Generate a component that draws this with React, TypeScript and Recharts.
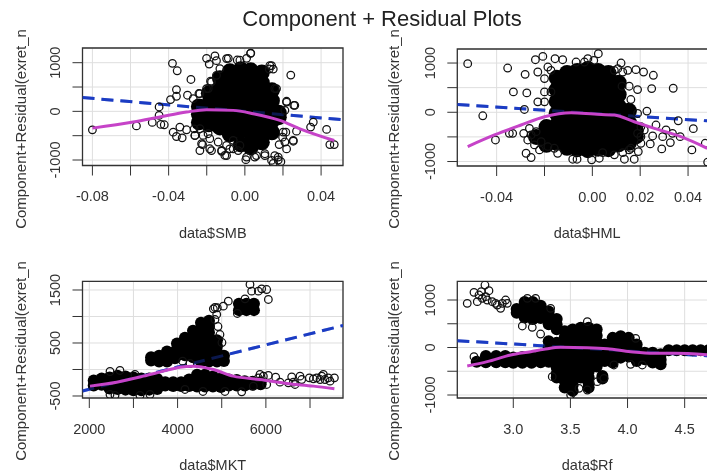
import {
  ScatterChart,
  Scatter,
  XAxis,
  YAxis,
  CartesianGrid,
  ReferenceArea,
} from "recharts";

type Pair = [number, number];
type Column = [number, number[]];

// SMB panel
const smbXTicks = [-0.08, -0.06, -0.04, -0.02, 0, 0.02, 0.04];
const smbXLabels = ["-0.08", "", "-0.04", "", "0.00", "", "0.04"];
const smbYTicks = [-1000, -500, 0, 500, 1000];
const smbYLabels = ["-1000", "", "0", "", "1000"];
const smbDense: Column[] = [
  [-0.0241, [100, -60, -226]],
  [-0.0189, [370, 155, -60, -267]],
  [-0.0131, [680, 470, 260, 50, -160, -330]],
  [-0.0079, [823, 610, 400, 190, -20, -230, -473]],
  [-0.0021, [864, 650, 440, 230, 20, -190, -400, -680]],
  [0.0031, [843, 630, 420, 210, 0, -210, -420, -630, -740]],
  [0.0089, [800, 590, 380, 170, -40, -250, -460, -637]],
  [0.0142, [432, 220, 10, -200, -432]],
  [0.0178, [-30, -120]],
];
const smbOpen: Pair[] = [
  [-0.08, -380], [-0.0569, -300], [-0.0486, -228], [-0.045, -83], [-0.045, 90], [-0.0441, -269],
  [-0.0423, -276], [-0.038, 986], [-0.0355, 834], [-0.0283, 655], [-0.039, 241], [-0.0359, 448],
  [-0.0359, 310], [-0.0301, 331], [-0.0241, 366], [-0.0376, -428], [-0.0359, -517], [-0.0329, -545],
  [-0.0341, -324], [-0.0306, -379], [-0.0266, -359], [-0.0262, -497], [-0.0236, -807], [-0.0222, -683],
  [-0.0175, -807], [-0.0201, 1090], [-0.0157, 1138], [-0.0187, 972], [-0.0149, 1041], [-0.018, 620],
  [-0.0192, 469], [-0.0122, -821], [-0.0096, -910], [-0.0079, -772], [-0.0087, 1090], [0.003, 1193],
  [0.0009, 1090], [-0.004, 1055], [0.0131, 938], [0.0149, 869], [0.0241, 745], [0.0157, 469],
  [0.0219, 207], [0.0257, 124], [0.021, 21], [0.0359, -221], [0.0345, -324], [0.0429, -372],
  [0.0446, -683], [0.0469, -683], [0.0271, -407], [0.0254, -614], [0.0215, -428], [0.0198, -531],
  [0.0219, -772], [0.018, -683], [0.0157, -910], [0.0175, -1000], [0.0149, -1069], [0.0189, -1034],
  [0.0005, -993], [0.0061, -910], [0.0105, -910], [-0.0035, -807],
  [-0.0227, -665], [-0.0184, -769], [-0.0122, -802], [-0.0061, -769], [-0.0105, -905], [-0.0219, -494],
  [-0.0184, -562], [-0.014, -631], [-0.0096, -700], [-0.0262, -494], [-0.0236, -357], [-0.0193, -460],
  [-0.0061, -596], [-0.0026, -700], [0.0009, -940], [0.0052, -940], [0.0105, -871], [0.0175, -940],
  [0.014, -1008], [0.021, -630], [0.0254, -596], [0.0201, -426], [0.0219, 191], [0.0262, 123],
  [0.0166, 466], [0.014, 938], [0.0128, 870], [-0.0096, 1084], [-0.0026, 1050], [0.0031, 1197],
  [-0.0131, 878], [-0.0149, 740], [-0.0175, 604], [-0.0201, 466], [-0.0236, 364], [-0.0271, 261],
];
const smbFit: Pair[] = [[-0.0852, 283], [0.0515, -172]];
const smbSmooth: Pair[] = [
  [-0.08, -345], [-0.0586, -221], [-0.0446, -117], [-0.0306, -14], [-0.0201, 34], [-0.0061, 20],
  [0.0044, -48], [0.0184, -186], [0.0289, -359], [0.0469, -600],
];

// HML panel
const hmlXTicks = [-0.04, -0.02, 0, 0.02, 0.04];
const hmlXLabels = ["-0.04", "", "0.00", "0.02", "0.04"];
const hmlYTicks = [-1000, -500, 0, 500, 1000];
const hmlYLabels = ["-1000", "", "0", "", "1000"];
const hmlDense: Column[] = [
  [-0.0235, [-500]],
  [-0.0192, [-300, -540, -660]],
  [-0.0149, [700, 460, 220, -20, -260, -500, -620]],
  [-0.0106, [800, 560, 320, 80, -160, -400, -640, -720]],
  [-0.0063, [840, 600, 360, 120, -120, -360, -600, -750]],
  [-0.0019, [880, 640, 400, 160, -80, -320, -560, -770]],
  [0.0024, [840, 600, 360, 120, -120, -360, -600, -740]],
  [0.0067, [800, 560, 320, 80, -160, -400, -640, -750]],
  [0.011, [600, 360, 120, -120, -360, -600, -650]],
  [0.0153, [30, -210, -450, -620]],
  [0.0182, [-370, -490]],
];
const hmlOpen: Pair[] = [
  [-0.0521, 987], [-0.0458, -71], [-0.0354, 899], [-0.033, 414], [-0.0274, 394], [-0.0281, 771],
  [-0.0405, -562], [-0.0347, -428], [-0.0333, -428], [-0.0284, 57], [-0.0238, 1067], [-0.0207, 1135],
  [-0.0156, 1088], [-0.0124, 1067], [-0.0068, 1020], [-0.0033, 1020], [-0.0019, 1088], [0.0025, 1189],
  [0.0006, 1054], [-0.0228, 818], [-0.02, 684], [-0.0186, 919], [-0.02, 414], [-0.0228, 212],
  [-0.02, 212], [-0.0277, -832], [-0.0256, -919], [-0.0221, -764], [-0.0287, -428], [-0.0145, -832],
  [-0.0082, -953], [-0.0064, -953], [-0.0003, -966], [0.0029, -933], [0.0043, -818], [0.0092, -865],
  [0.0127, -818], [0.0134, -953], [0.0175, -953], [0.0154, -764], [0.0192, -798], [0.012, 1000],
  [0.0148, 852], [0.0182, 865], [0.0214, 818], [0.0255, 751], [0.0248, 481], [0.0338, 488],
  [0.0189, 461], [0.0154, 529], [0.0124, 529], [0.0161, 259], [0.0228, 24], [0.0266, -259],
  [0.0252, -481], [0.0294, -495], [0.0242, -643], [0.029, -744], [0.0326, -616], [0.0308, -360],
  [0.0335, -428], [0.0367, -495], [0.0359, -172], [0.0422, -333], [0.0416, -764], [0.0472, -630],
  [0.0482, -1013], [0.0203, -495], [0.0217, -360],
  [-0.027, -562], [-0.0242, -663], [-0.0256, -461], [-0.0214, -596], [-0.0186, -697], [-0.0159, -731],
  [-0.0235, -394], [-0.0263, -327], [0.0189, -24], [0.0203, -293], [0.0189, -428], [0.0203, -630],
  [0.0161, -731], [0.0106, 885], [0.0127, 818], [0.0092, 852], [-0.0173, 852], [-0.0173, 414],
];
const hmlFit: Pair[] = [[-0.0564, 158], [0.0521, -187]];
const hmlSmooth: Pair[] = [
  [-0.0521, -697], [-0.0409, -461], [-0.0298, -259], [-0.02, -91], [-0.0089, -10], [0.0008, -37],
  [0.0092, -57], [0.0175, -192], [0.0259, -327], [0.037, -495], [0.048, -731],
];

// MKT panel
const mktXTicks = [2000, 3000, 4000, 5000, 6000, 7000];
const mktXLabels = ["2000", "", "4000", "", "6000", ""];
const mktYTicks = [-500, 0, 500, 1000, 1500];
const mktYLabels = ["-500", "", "500", "", "1500"];
const mktDense: Column[] = [
  [2100, [-210, -300]],
  [2280, [-170, -290]],
  [2460, [-150, -270, -360]],
  [2640, [-120, -240, -370]],
  [2820, [-130, -250, -380]],
  [3000, [-150, -270, -390]],
  [3180, [-170, -290, -390]],
  [3360, [-170, -290, -380]],
  [3540, [-180, -290, -370]],
  [3720, [-240, -300]],
  [3900, [-240, -310]],
  [4080, [-240, -310]],
  [4260, [-190, -310]],
  [4440, [-100, -210, -320]],
  [4620, [-100, -210, -320]],
  [4800, [-130, -230, -320]],
  [4980, [-170, -270, -330]],
  [5160, [-190, -300]],
  [5340, [-200, -300]],
  [5520, [-220, -300]],
  [5700, [-230, -290]],
  [5880, [-240, -280]],
  [3400, [170, 230]],
  [3580, [150, 260]],
  [3760, [150, 270, 340]],
  [3940, [210, 330]],
  [3986, [490, 380, 270]],
  [4167, [600, 490, 380, 270]],
  [4349, [730, 620, 510, 400, 290, 230]],
  [4530, [880, 770, 660, 550, 440, 330, 220, 150]],
  [4711, [920, 810, 700, 590, 480, 370, 260, 150]],
  [4892, [550, 440, 330, 220, 150]],
  [5050, [260, 160]],
  [5390, [1120, 1240]],
  [5560, [1120, 1240]],
  [5730, [1120, 1240]],
];
const mktOpen: Pair[] = [
  [4810, 1145], [4900, 1164], [5036, 1195], [5149, 1289], [5354, 1057], [5640, 1604], [5678, 1478],
  [5527, 1333], [5905, 1522], [6018, 1509], [6056, 1321], [5829, 1478], [5867, -94], [6056, -113],
  [6222, -145], [6018, -283], [6320, -239], [6509, -252], [6585, -138], [6622, -239], [6773, -126],
  [6811, -189], [6660, -283], [6985, -157], [7076, -176], [7151, -157], [7264, -126], [7302, -94],
  [7340, -189], [7415, -157], [7552, -157], [7453, -220], [7227, -189], [5452, -421], [5716, -314],
  [5829, -157], [5943, -126], [4115, 157], [4281, 113],
  [2469, -472], [2582, -490], [3148, -490], [3375, -472], [5073, -415], [4575, -415], [4167, -377],
  [2469, -38], [2695, -19], [3035, -94], [4847, 1170], [4886, 1038], [4847, 943], [4915, 811],
  [4960, 660], [5005, 509],
];
const mktFit: Pair[] = [[1846, -405], [7747, 830]];
const mktSmooth: Pair[] = [
  [2015, -314], [2619, -239], [3224, -126], [3677, -31], [4054, 44], [4356, 63], [4810, 0],
  [5263, -126], [5867, -189], [6471, -264], [7076, -314], [7552, -365],
];

// Rf panel
const rfXTicks = [3, 3.5, 4, 4.5];
const rfXLabels = ["3.0", "3.5", "4.0", "4.5"];
const rfYTicks = [-1000, -500, 0, 500, 1000];
const rfYLabels = ["-1000", "", "0", "", "1000"];
const rfDense: Column[] = [
  [3.03, [810, 730]],
  [3.1, [960, 830, 700, 630]],
  [3.17, [960, 830, 700, 600]],
  [3.24, [880, 750, 620]],
  [3.31, [760, 630, 490, 130, 0, -130, -300]],
  [3.38, [600, 480, 385, 100, -30, -160, -290, -420, -550, -633]],
  [3.45, [344, 210, 80, -50, -180, -310, -440, -570, -700, -843]],
  [3.52, [380, 250, 120, -10, -140, -270, -400, -530, -660, -790, -913]],
  [3.59, [414, 280, 150, 20, -110, -240, -370, -500, -633]],
  [3.66, [414, 280, 150, 20, -110, -240, -370, -500, -630, -760, -843]],
  [3.73, [380, 250, 120, -10, -140, -270, -400]],
  [3.78, [-600, -650]],
  [3.8, [63, -60, -180, -283]],
  [3.87, [203, 70, -60, -190, -318]],
  [3.94, [238, 100, -30, -160, -213]],
  [4.01, [203, 70, -60, -190]],
  [4.08, [63, -60, -180, -283]],
  [4.15, [-112, -248]],
  [4.22, [-112, -230, -318]],
  [4.29, [-140, -260, -350]],
  [4.36, [-60]],
  [4.43, [-60]],
  [4.5, [-60]],
  [4.57, [-60]],
  [4.64, [-60]],
  [4.71, [-60]],
  [2.68, [-300]],
  [2.76, [-180, -310]],
  [2.85, [-180, -310]],
  [2.93, [-180, -310]],
  [3.0, [-210, -320]],
  [3.08, [-200, -320]],
  [3.16, [-200, -320]],
  [3.24, [-150, -310]],
];
const rfOpen: Pair[] = [
  [2.597, 930], [2.656, 1161], [2.685, 965], [2.72, 1175], [2.752, 1316], [2.787, 1196], [2.729, 1035],
  [2.772, 1000], [2.816, 965], [2.86, 895], [2.889, 825], [2.933, 1000], [2.947, 930], [2.904, 930],
  [2.845, 930], [2.7, 1105], [2.758, 1070], [3.079, 453], [3.166, 425], [3.239, 284], [3.648, 544],
  [3.881, -368], [4.027, -354], [4.129, -368], [4.071, 193], [3.502, -1000], [3.575, -860], [3.648, -895],
  [3.735, -719], [3.794, -649], [3.341, -614], [2.656, -193], [3.327, 825], [3.123, 1035], [3.195, 1035],
];
const rfFit: Pair[] = [[2.51, 144], [4.783, -186]];
const rfSmooth: Pair[] = [
  [2.597, -389], [2.772, -298], [2.977, -158], [3.152, -88], [3.268, -39], [3.414, 4], [3.648, -4],
  [3.823, -25], [4.027, -88], [4.231, -123], [4.407, -123], [4.695, -151],
];

const FONT = '"Liberation Sans", Arial, sans-serif';
const INK = "#333";
const FIT_LINE = { stroke: "#1c3cc4", strokeWidth: 3, strokeDasharray: "12 7" };

const toPoints = (rows: Pair[]) => rows.map(([x, y]) => ({ x, y }));
const columnsToPoints = (cols: Column[]) =>
  cols.flatMap(([x, ys]) => ys.map((y) => ({ x, y })));

const NoMarker = () => <g />;
const OpenMarker = (p: any) => (
  <circle cx={p.cx} cy={p.cy} r={3.8} fill="none" stroke="#111" strokeWidth={1.25} />
);

type PanelProps = {
  left: number;
  top: number;
  width: number;
  height: number;
  boxLeft: number;
  boxTop: number;
  boxBottom: number;
  boxRight: number;
  xDomain: [number, number];
  yDomain: [number, number];
  xTicks: number[];
  xLabels: string[];
  yTicks: number[];
  yLabels: string[];
  xName: string;
  titleX: number;
  titleY: number;
  nameY: number;
  radius: number;
  dense: Column[];
  open: Pair[];
  fit: Pair[];
  smooth: Pair[];
};

const Panel = (props: PanelProps) => {
  const { left, top, width, height, boxLeft, boxTop, boxBottom, boxRight } = props;
  const DenseMarker = (p: any) => <circle cx={p.cx} cy={p.cy} r={props.radius} fill="#000" />;

  const xTick = (p: any) => (
    <text x={p.x} y={p.y + 18.5} textAnchor="middle" dominantBaseline="central"
      fontSize={14.5} fontFamily={FONT} fill={INK}>
      {props.xLabels[props.xTicks.indexOf(p.payload.value)]}
    </text>
  );
  const yTick = (p: any) => (
    <text transform={`rotate(-90 ${p.x - 15.5} ${p.y})`} x={p.x - 15.5} y={p.y}
      textAnchor="middle" dominantBaseline="central"
      fontSize={14.5} fontFamily={FONT} fill={INK}>
      {props.yLabels[props.yTicks.indexOf(p.payload.value)]}
    </text>
  );

  return (
    <div style={{ position: "absolute", left, top }}>
      <ScatterChart
        width={width}
        height={height}
        margin={{ top: boxTop, right: width - boxRight, left: 0, bottom: 0 }}
      >
        <CartesianGrid stroke="#dedede" strokeWidth={1} />
        <XAxis
          type="number"
          dataKey="x"
          domain={props.xDomain}
          ticks={props.xTicks}
          interval={0}
          allowDataOverflow
          height={height - boxBottom}
          axisLine={false}
          tickLine={{ stroke: INK }}
          tickSize={10}
          tick={xTick}
          label={() => (
            <text x={(boxLeft + boxRight) / 2} y={props.nameY} textAnchor="middle"
              dominantBaseline="central" fontSize={14.5} fontFamily={FONT} fill={INK}>
              {props.xName}
            </text>
          )}
        />
        <YAxis
          type="number"
          dataKey="y"
          domain={props.yDomain}
          ticks={props.yTicks}
          interval={0}
          allowDataOverflow
          width={boxLeft}
          axisLine={false}
          tickLine={{ stroke: INK }}
          tickSize={10}
          tick={yTick}
          label={() => (
            <text transform={`rotate(-90 ${props.titleX} ${props.titleY})`} x={props.titleX} y={props.titleY}
              textAnchor="middle" dominantBaseline="central" fontSize={15} fontFamily={FONT} fill={INK}>
              Component+Residual(exret_n
            </text>
          )}
        />
        {/* recta bajo la nube; encima solo se adivina, muy oscura */}
        <Scatter data={toPoints(props.fit)} line={FIT_LINE} shape={NoMarker} isAnimationActive={false} />
        <Scatter data={columnsToPoints(props.dense)} shape={DenseMarker} isAnimationActive={false} />
        <Scatter
          data={toPoints(props.fit)}
          line={{ ...FIT_LINE, strokeOpacity: 0.4 }}
          shape={NoMarker}
          isAnimationActive={false}
        />
        <Scatter data={toPoints(props.open)} shape={OpenMarker} isAnimationActive={false} />
        <Scatter
          data={toPoints(props.smooth)}
          line={{ stroke: "#c643c8", strokeWidth: 3 }}
          lineJointType="monotoneX"
          shape={NoMarker}
          isAnimationActive={false}
        />
        <ReferenceArea
          x1={props.xDomain[0]}
          x2={props.xDomain[1]}
          y1={props.yDomain[0]}
          y2={props.yDomain[1]}
          fill="none"
          stroke={INK}
          strokeWidth={1.3}
          ifOverflow="visible"
        />
      </ScatterChart>
    </div>
  );
};

export default function App() {
  return (
    <div
      style={{
        position: "absolute",
        left: 0,
        top: 0,
        width: 707,
        height: 472,
        overflow: "hidden",
        background: "#fff",
        filter: "blur(0.4px)",
      }}
    >
      <div
        style={{
          position: "absolute",
          left: 0,
          top: 6,
          width: 764,
          textAlign: "center",
          fontFamily: FONT,
          fontSize: 22,
          lineHeight: "26px",
          color: "#222",
        }}
      >
        Component + Residual Plots
      </div>
      <Panel
        left={0} top={0} width={354} height={240}
        boxLeft={82.5} boxTop={48} boxBottom={165.5} boxRight={343}
        xDomain={[-0.0852, 0.0515]} yDomain={[-1113, 1302]}
        xTicks={smbXTicks} xLabels={smbXLabels} yTicks={smbYTicks} yLabels={smbYLabels}
        xName="data$SMB" titleX={20} titleY={129} nameY={233} radius={8}
        dense={smbDense} open={smbOpen} fit={smbFit} smooth={smbSmooth}
      />
      <Panel
        left={354} top={0} width={363} height={240}
        boxLeft={103.3} boxTop={49} boxBottom={166} boxRight={363}
        xDomain={[-0.05645, 0.0521]} yDomain={[-1091, 1285]}
        xTicks={hmlXTicks} xLabels={hmlXLabels} yTicks={hmlYTicks} yLabels={hmlYLabels}
        xName="data$HML" titleX={39} titleY={129} nameY={233} radius={8}
        dense={hmlDense} open={hmlOpen} fit={hmlFit} smooth={hmlSmooth}
      />
      <Panel
        left={0} top={240} width={354} height={232}
        boxLeft={82.5} boxTop={41.3} boxBottom={158} boxRight={343}
        xDomain={[1846, 7747]} yDomain={[-538, 1664]}
        xTicks={mktXTicks} xLabels={mktXLabels} yTicks={mktYTicks} yLabels={mktYLabels}
        xName="data$MKT" titleX={20} titleY={121} nameY={225} radius={6}
        dense={mktDense} open={mktOpen} fit={mktFit} smooth={mktSmooth}
      />
      <Panel
        left={354} top={240} width={363} height={232}
        boxLeft={103.3} boxTop={41.3} boxBottom={158} boxRight={363}
        xDomain={[2.51, 4.783]} yDomain={[-1063, 1394]}
        xTicks={rfXTicks} xLabels={rfXLabels} yTicks={rfYTicks} yLabels={rfYLabels}
        xName="data$Rf" titleX={39} titleY={121} nameY={225} radius={6}
        dense={rfDense} open={rfOpen} fit={rfFit} smooth={rfSmooth}
      />
    </div>
  );
}
